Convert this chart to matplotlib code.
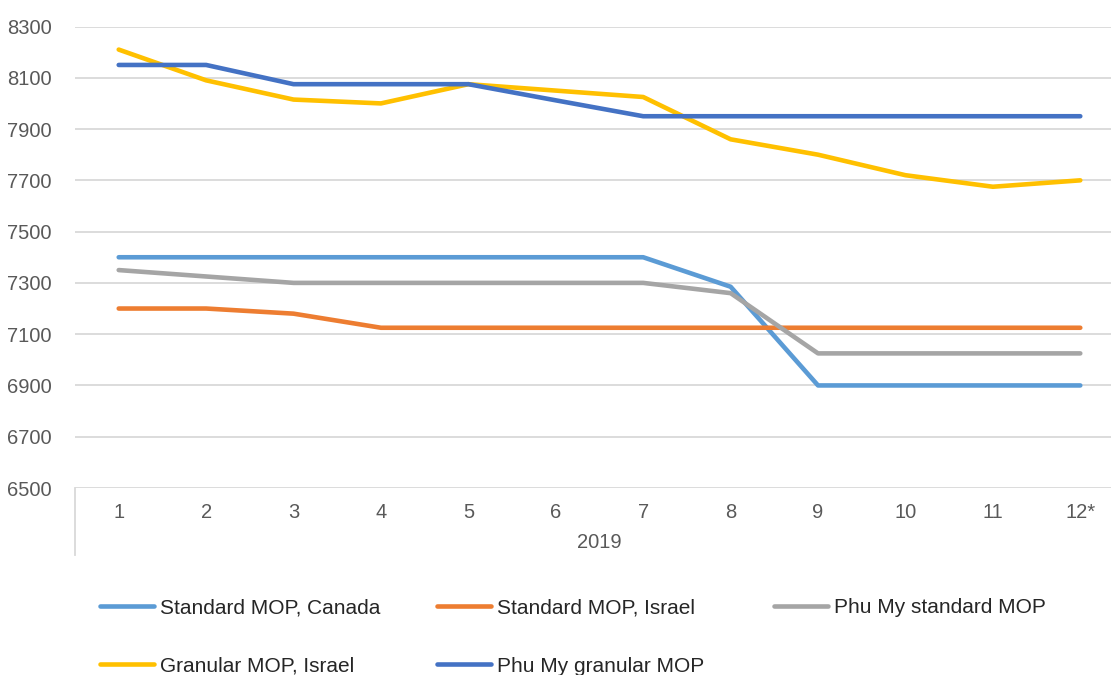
import matplotlib
matplotlib.use("Agg")
import matplotlib.pyplot as plt

plt.rcParams['font.family'] = ['Liberation Sans', 'DejaVu Sans']

# Monthly potash prices, 2019
months = ["1", "2", "3", "4", "5", "6", "7", "8", "9", "10", "11", "12*"]
year_label = "2019"

std_canada = [7400, 7400, 7400, 7400, 7400, 7400, 7400, 7285, 6900, 6900, 6900, 6900]
std_israel = [7200, 7200, 7180, 7125, 7125, 7125, 7125, 7125, 7125, 7125, 7125, 7125]
phumy_std = [7350, 7325, 7300, 7300, 7300, 7300, 7300, 7260, 7025, 7025, 7025, 7025]
gran_israel = [8210, 8090, 8015, 8000, 8075, 8050, 8025, 7860, 7800, 7720, 7675, 7700]
phumy_gran = [8150, 8150, 8075, 8075, 8075, 8012, 7950, 7950, 7950, 7950, 7950, 7950]

series = [
    ("Standard MOP, Canada", std_canada, "#5B9BD5"),
    ("Standard MOP, Israel", std_israel, "#ED7D31"),
    ("Phu My standard MOP", phumy_std, "#A5A5A5"),
    ("Granular MOP, Israel", gran_israel, "#FFC000"),
    ("Phu My granular MOP", phumy_gran, "#4472C4"),
]

y_ticks = list(range(6500, 8301, 200))

W, H = 1111, 675
fig = plt.figure(figsize=(W / 100, H / 100), dpi=100)
left, right, top, bottom = 75, 1124, 26.5, 488
ax = fig.add_axes([left / W, 1 - bottom / H, (right - left) / W, (bottom - top) / H])

x = list(range(len(months)))
handles = {}
for name, vals, color in series:
    ln, = ax.plot(x, vals, color=color, lw=3.3, solid_capstyle='round',
                  solid_joinstyle='round', label=name, zorder=3)
    handles[name] = ln

ax.set_xlim(-0.5, len(months) - 0.5)
ax.set_ylim(6500, 8300)
ax.set_yticks(y_ticks)
ax.set_yticklabels([str(v) for v in y_ticks])
ax.set_xticks(x)
ax.set_xticklabels(months)
ax.grid(axis='y', color='#D9D9D9', lw=1.3, zorder=0)
ax.set_axisbelow(True)
for s in ax.spines.values():
    s.set_visible(False)
ax.tick_params(axis='both', length=0, labelsize=14.5, colors='#595959')
ax.tick_params(axis='y', pad=17)
ax.tick_params(axis='x', pad=11)

# Category group separator and year label
ax_h = bottom - top
ax.plot([0, 0], [0, -(555 - bottom) / ax_h], transform=ax.transAxes,
        color='#D9D9D9', lw=1.3, clip_on=False)
ax.text(0.5, -(543 - bottom) / ax_h, year_label, transform=ax.transAxes,
        ha='center', va='center', fontsize=14.5, color='#595959')

# Legend: three columns placed below the plot
cols = [
    (["Standard MOP, Canada", "Granular MOP, Israel"], 100),
    (["Standard MOP, Israel", "Phu My granular MOP"], 437),
    (["Phu My standard MOP"], 774),
]
for names, xpos in cols:
    fig.legend([handles[n] for n in names], names,
               loc='upper left', bbox_to_anchor=(xpos / W, 1 - 598 / H),
               frameon=False, fontsize=15, handlelength=2.6, handletextpad=0.29,
               labelspacing=1.9, borderpad=0, borderaxespad=0,
               labelcolor='#262626')

fig.savefig("out.png", dpi=100)
